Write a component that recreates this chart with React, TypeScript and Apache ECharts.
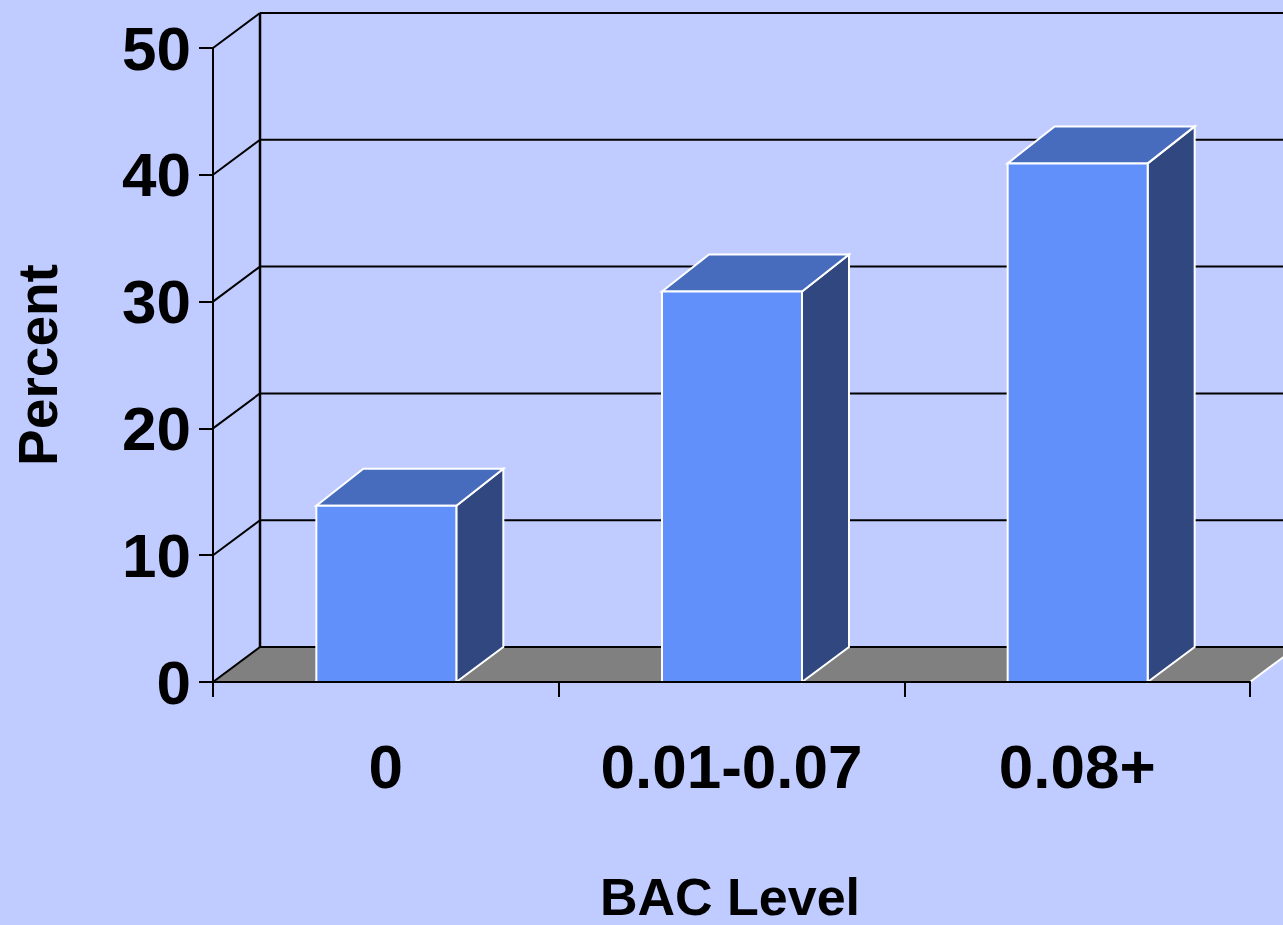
import React, { useEffect, useRef } from "react";
import * as echarts from "echarts";

const categories = ["0", "0.01-0.07", "0.08+"];
const percentValues = [13.9, 30.8, 40.9];
const yTicks = [0, 10, 20, 30, 40, 50];

const DEPTH_X = 47;
const DEPTH_Y = 35;
const BAR_TOP_DY = 37;
const FONT = "'Liberation Sans', Arial, sans-serif";

const COLORS = {
  bg: "#C0CCFF",
  floor: "#808080",
  front: "#6290FA",
  top: "#476CBE",
  side: "#30487F",
};

function renderWalls(params: any, api: any) {
  const cs = params.coordSys;
  const x0 = cs.x;
  const x1 = cs.x + cs.width;
  const base = api.coord([0, 0])[1];
  const topY = api.coord([0, yTicks[yTicks.length - 1]])[1];
  const black = { stroke: "#000", lineWidth: 2 };
  const children: any[] = [
    {
      type: "polygon",
      shape: {
        points: [
          [x0, base],
          [x1, base],
          [x1 + DEPTH_X, base - DEPTH_Y],
          [x0 + DEPTH_X, base - DEPTH_Y],
        ],
      },
      style: { fill: COLORS.floor },
    },
    {
      type: "line",
      shape: { x1: x1, y1: base, x2: x1 + DEPTH_X, y2: base - DEPTH_Y },
      style: { stroke: "#fff", lineWidth: 2 },
    },
  ];
  yTicks.forEach((t) => {
    const y = api.coord([0, t])[1];
    children.push({
      type: "line",
      shape: { x1: x0 + DEPTH_X, y1: y - DEPTH_Y, x2: x1 + DEPTH_X + 60, y2: y - DEPTH_Y },
      style: black,
    });
    children.push({
      type: "line",
      shape: { x1: x0, y1: y, x2: x0 + DEPTH_X, y2: y - DEPTH_Y },
      style: black,
    });
  });
  children.push({
    type: "line",
    shape: { x1: x0 + DEPTH_X, y1: base - DEPTH_Y, x2: x0 + DEPTH_X, y2: topY - DEPTH_Y },
    style: { stroke: "#000", lineWidth: 2.5 },
  });
  return { type: "group", children };
}

function renderBars(params: any, api: any) {
  const cat = api.value(0);
  const val = api.value(1);
  const pt = api.coord([cat, val]);
  const cx = pt[0];
  const yTop = pt[1];
  const base = api.coord([cat, 0])[1];
  const band = api.size([1, 0])[0];
  const w = band * 0.405;
  const xl = cx - w / 2 + 0.5;
  const xr = cx + w / 2 + 0.5;
  const edge = { stroke: "#fff", lineWidth: 2, lineJoin: "miter" };
  return {
    type: "group",
    children: [
      {
        type: "polygon",
        shape: {
          points: [
            [xr, yTop],
            [xr + DEPTH_X, yTop - BAR_TOP_DY],
            [xr + DEPTH_X, base - DEPTH_Y],
            [xr, base],
          ],
        },
        style: { fill: COLORS.side, ...edge },
      },
      {
        type: "polygon",
        shape: {
          points: [
            [xl, yTop],
            [xl + DEPTH_X, yTop - BAR_TOP_DY],
            [xr + DEPTH_X, yTop - BAR_TOP_DY],
            [xr, yTop],
          ],
        },
        style: { fill: COLORS.top, ...edge },
      },
      {
        type: "rect",
        shape: { x: xl, y: yTop, width: xr - xl, height: base - yTop },
        style: { fill: COLORS.front, ...edge },
      },
    ],
  };
}

export default function App() {
  const ref = useRef<HTMLDivElement>(null);
  useEffect(() => {
    document.body.style.margin = "0";
    const chart = echarts.init(ref.current!, null, { renderer: "svg" });
    const labelStyle = {
      fontSize: 62,
      fontWeight: "bold",
      color: "#000",
      fontFamily: FONT,
      lineHeight: 62,
    };
    chart.setOption({
      animation: false,
      backgroundColor: COLORS.bg,
      grid: { left: 213, right: 33, top: 48, bottom: 243, containLabel: false },
      xAxis: {
        type: "category",
        data: categories,
        boundaryGap: true,
        z: 10,
        axisLine: { show: true, lineStyle: { color: "#000", width: 2 } },
        axisTick: { show: true, length: 15, lineStyle: { color: "#000", width: 2 } },
        axisLabel: { margin: 53, ...labelStyle },
        splitLine: { show: false },
      },
      yAxis: {
        type: "value",
        min: 0,
        max: 50,
        interval: 10,
        z: 10,
        axisLine: { show: true, lineStyle: { color: "#000", width: 2 } },
        axisTick: { show: true, length: 14, lineStyle: { color: "#000", width: 2 } },
        axisLabel: { margin: 22, ...labelStyle },
        splitLine: { show: false },
      },
      series: [
        {
          type: "custom",
          renderItem: renderWalls,
          data: [[0, 0]],
          z: 1,
          clip: false,
          silent: true,
        },
        {
          type: "custom",
          renderItem: renderBars,
          data: percentValues.map((v, i) => [i, v]),
          z: 2,
          clip: false,
        },
      ],
      graphic: [
        {
          type: "text",
          x: 730,
          y: 897,
          z: 20,
          style: {
            text: "BAC Level",
            fill: "#000",
            fontSize: 52,
            fontWeight: "bold",
            fontFamily: FONT,
            align: "center",
            verticalAlign: "middle",
            textAlign: "center",
            textVerticalAlign: "middle",
          },
        },
        {
          type: "text",
          x: 38,
          y: 365,
          z: 20,
          rotation: Math.PI / 2,
          style: {
            text: "Percent",
            fill: "#000",
            fontSize: 55,
            fontWeight: "bold",
            fontFamily: FONT,
            align: "center",
            verticalAlign: "middle",
            textAlign: "center",
            textVerticalAlign: "middle",
          },
        },
      ],
    });
    return () => chart.dispose();
  }, []);
  return <div ref={ref} style={{ width: 1283, height: 925, display: "block" }} />;
}
